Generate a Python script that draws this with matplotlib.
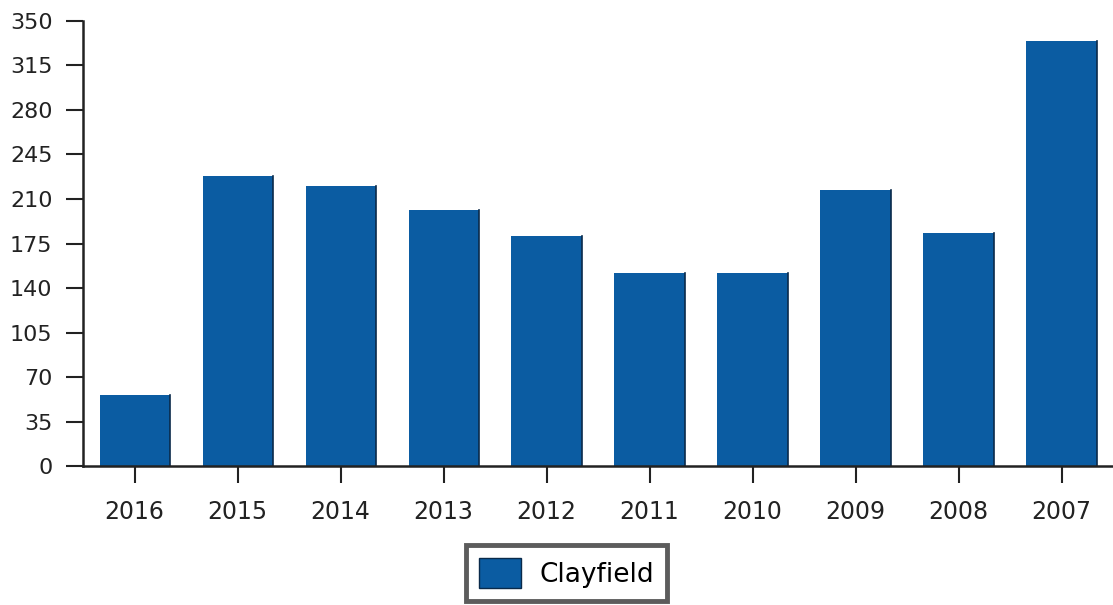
import matplotlib.pyplot as plt
from matplotlib.patches import Patch

years = ['2016', '2015', '2014', '2013', '2012', '2011', '2010', '2009', '2008', '2007']
clayfield = [56, 228, 220, 201, 181, 152, 152, 217, 183, 334]
y_ticks = [0, 35, 70, 105, 140, 175, 210, 245, 280, 315, 350]

BAR_COLOR = '#0b5ca2'

fig = plt.figure(figsize=(11.13, 6.05), dpi=100, facecolor='white')
ax = fig.add_axes([0.0746, 0.229, 0.9254, 0.737])

x = list(range(len(years)))
ax.bar(x, clayfield, width=0.68, color=BAR_COLOR, edgecolor='none')
# dark right edge like the original shading
for xi, v in zip(x, clayfield):
    ax.plot([xi + 0.34, xi + 0.34], [0, v], color='#0a2a4a', lw=1.2)

ax.set_xlim(-0.5, len(years) - 0.5)
ax.set_ylim(0, 350)
ax.set_yticks(y_ticks)
ax.set_yticklabels([str(t) for t in y_ticks], fontsize=16, color='#222222')
ax.set_xticks(x)
ax.set_xticklabels(years, fontsize=17, color='#222222')

for s in ['top', 'right']:
    ax.spines[s].set_visible(False)
ax.spines['left'].set_linewidth(1.8)
ax.spines['bottom'].set_linewidth(1.8)
ax.spines['left'].set_color('#222222')
ax.spines['bottom'].set_color('#222222')
ax.tick_params(axis='y', length=12, width=1.5, pad=10, colors='#222222')
ax.tick_params(axis='x', length=12, width=1.5, pad=12, colors='#222222')

leg = fig.legend(handles=[Patch(facecolor=BAR_COLOR, edgecolor='#0a2a4a', label='Clayfield')],
                 loc='center', bbox_to_anchor=(0.509, 0.053), fontsize=19,
                 frameon=True, fancybox=False, handlelength=1.6, handleheight=1.4,
                 borderpad=0.5, handletextpad=0.7, borderaxespad=0)
leg.get_frame().set_edgecolor('#333333')
leg.get_frame().set_linewidth(3.5)

plt.savefig('out.png', dpi=100, facecolor='white')
